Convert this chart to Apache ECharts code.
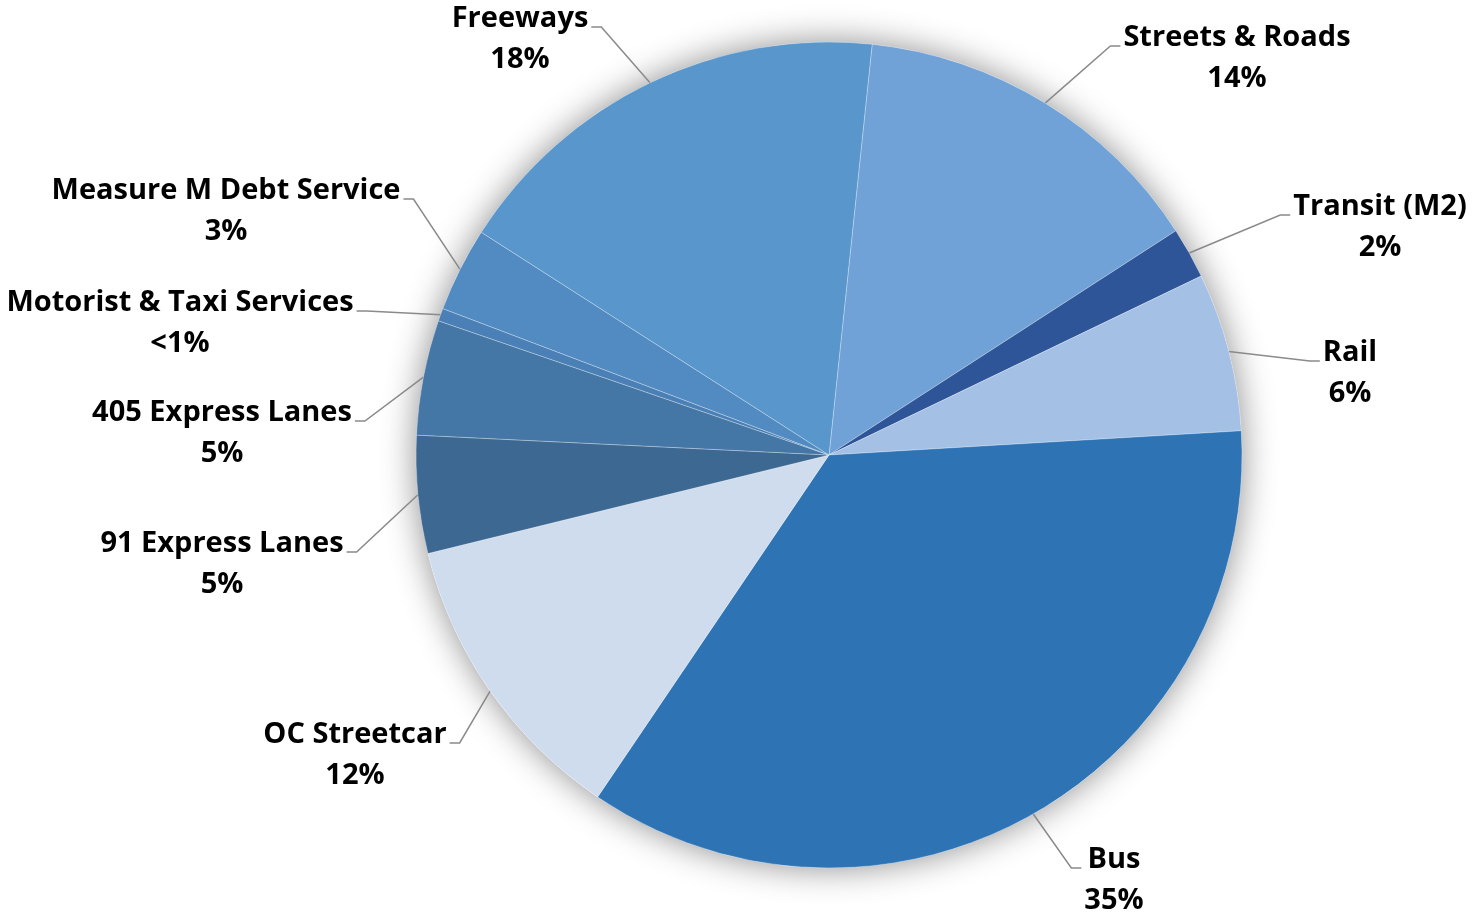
<!DOCTYPE html>
<html><head><meta charset="utf-8">
<script src="https://cdn.jsdelivr.net/npm/echarts@6/dist/echarts.min.js"></script>
<style>html,body{margin:0;padding:0;background:#fff;overflow:hidden}#c{width:1473px;height:915px}</style>
</head><body><div id="c"></div>
<script>
// ---- data ----
const categories = ['Streets & Roads', 'Transit (M2)', 'Rail', 'Bus', 'OC Streetcar',
  '91 Express Lanes', '405 Express Lanes', 'Motorist & Taxi Services', 'Measure M Debt Service', 'Freeways'];
const values = [14.2, 2.0, 6.2, 35.4, 11.7, 4.6, 4.5, 0.5, 3.3, 17.6];
const percentLabels = ['14%', '2%', '6%', '35%', '12%', '5%', '5%', '<1%', '3%', '18%'];

// ---- styles / layout ----
const sliceColors = ['#70a2d7', '#2e5597', '#a5c0e5', '#2e74b5', '#cfdcee',
  '#3c6892', '#4476a6', '#4a80b6', '#528bc2', '#5896cc'];
const labelCenters = [[1237, 58], [1380, 227], [1350, 373], [1114, 880], [355, 755],
  [222, 564], [222, 433], [180, 323], [226, 211], [520, 39]];
const pieCenter = [829, 455];
const pieRadius = 413;

const chart = echarts.init(document.getElementById('c'), null, { renderer: 'canvas' });
const total = values.reduce((a, b) => a + b, 0);

chart.setOption({
  animation: false,
  backgroundColor: '#ffffff',
  series: [
    {
      type: 'pie',
      silent: true,
      center: pieCenter,
      radius: pieRadius,
      label: { show: false },
      labelLine: { show: false },
      itemStyle: { color: '#ffffff', shadowBlur: 34, shadowColor: 'rgba(0,0,0,0.45)' },
      data: [{ value: total, name: 'all' }],
      z: 1
    },
    {
      type: 'pie',
      center: pieCenter,
      radius: pieRadius,
      startAngle: 84,
      clockwise: true,
      avoidLabelOverlap: false,
      color: sliceColors,
      itemStyle: { borderColor: 'rgba(255,255,255,0.35)', borderWidth: 0.8 },
      label: {
        show: true,
        position: 'outside',
        color: '#000000',
        fontFamily: 'Open Sans',
        fontWeight: 'bold',
        fontSize: 29,
        lineHeight: 41,
        align: 'center',
        formatter: (p) => categories[p.dataIndex] + '\n' + percentLabels[p.dataIndex]
      },
      labelLine: { show: true, length: 20, length2: 10, lineStyle: { color: '#8a8a8a', width: 1.5 } },
      labelLayout: function (params) {
        const i = params.dataIndex;
        const x = labelCenters[i][0];
        const y = labelCenters[i][1];
        const w = params.labelRect.width;
        const left = x < pieCenter[0];
        const endX = left ? x + w / 2 + 3 : x - w / 2 - 3;
        const endY = y - 12;
        const elbowX = left ? endX + 10 : endX - 10;
        const p0 = params.labelLinePoints ? params.labelLinePoints[0] : [endX, endY];
        return {
          x: x, y: y, align: 'center', verticalAlign: 'middle',
          labelLinePoints: [[p0[0], p0[1]], [elbowX, endY], [endX, endY]]
        };
      },
      data: categories.map((n, i) => ({ name: n, value: values[i] })),
      z: 2
    }
  ]
});
</script>
</body></html>
